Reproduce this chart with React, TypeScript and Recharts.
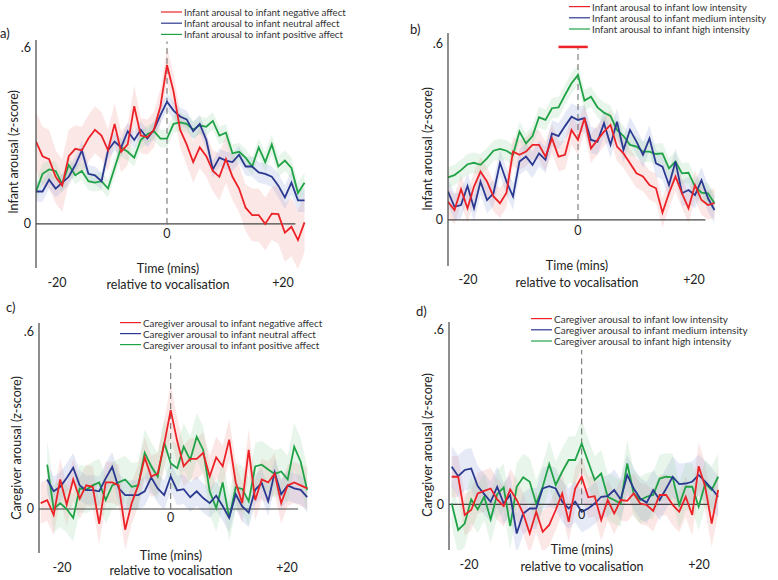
import React from "react";
import {
  ComposedChart,
  Line,
  Area,
  XAxis,
  YAxis,
  ReferenceLine,
} from "recharts";

// time relative to vocalisation (mins)
const minutes = [
  -20, -19, -18, -17, -16, -15, -14, -13, -12, -11, -10, -9, -8, -7, -6, -5, -4,
  -3, -2, -1, 0, 1, 2, 3, 4, 5, 6, 7, 8, 9, 10, 11, 12, 13, 14, 15, 16, 17, 18,
  19, 20, 21,
];

// a) infant arousal by infant affect
const aNames = [
  "Infant arousal to infant negative affect",
  "Infant arousal to infant neutral affect",
  "Infant arousal to infant positive affect",
];
const aRed = [
  0.28, 0.23, 0.22, 0.16, 0.13, 0.23, 0.255, 0.25, 0.29, 0.32, 0.3, 0.25, 0.34,
  0.245, 0.27, 0.4, 0.3, 0.295, 0.32, 0.4, 0.54, 0.45, 0.32, 0.27, 0.21, 0.26,
  0.23, 0.18, 0.16, 0.22, 0.16, 0.12, 0.055, 0.03, 0.03, 0.0, 0.035, 0.033,
  -0.03, -0.01, -0.055, 0.005,
];
const aBlue = [
  0.11, 0.11, 0.15, 0.12, 0.14, 0.16, 0.2, 0.25, 0.17, 0.165, 0.145, 0.25, 0.28,
  0.26, 0.315, 0.285, 0.32, 0.29, 0.32, 0.37, 0.415, 0.385, 0.365, 0.355, 0.315,
  0.34, 0.285, 0.185, 0.225, 0.215, 0.21, 0.235, 0.195, 0.195, 0.175, 0.17,
  0.16, 0.13, 0.09, 0.14, 0.08, 0.08,
];
const aGreen = [
  0.11, 0.17, 0.185, 0.18, 0.135, 0.2, 0.165, 0.18, 0.145, 0.14, 0.145, 0.12,
  0.19, 0.26, 0.245, 0.225, 0.285, 0.305, 0.315, 0.29, 0.29, 0.34, 0.345, 0.34,
  0.32, 0.335, 0.33, 0.35, 0.3, 0.31, 0.24, 0.245, 0.225, 0.195, 0.26, 0.21,
  0.27, 0.195, 0.215, 0.19, 0.105, 0.14,
];
const aRedSe = [
  0.1, 0.1, 0.1, 0.09, 0.09, 0.09, 0.08, 0.08, 0.08, 0.08, 0.08, 0.07, 0.07,
  0.07, 0.07, 0.07, 0.06, 0.06, 0.06, 0.06, 0.06, 0.06, 0.06, 0.07, 0.07, 0.07,
  0.07, 0.07, 0.08, 0.08, 0.08, 0.08, 0.08, 0.09, 0.09, 0.09, 0.09, 0.1, 0.1,
  0.1, 0.1, 0.1,
];
const aBlueSe = [
  0.035, 0.035, 0.03, 0.03, 0.03, 0.03, 0.03, 0.03, 0.03, 0.03, 0.03, 0.03,
  0.03, 0.03, 0.03, 0.03, 0.03, 0.03, 0.03, 0.03, 0.03, 0.03, 0.03, 0.03, 0.03,
  0.03, 0.03, 0.03, 0.03, 0.03, 0.03, 0.03, 0.03, 0.035, 0.035, 0.035, 0.035,
  0.04, 0.04, 0.04, 0.04, 0.04,
];
const aGreenSe = [
  0.035, 0.035, 0.03, 0.03, 0.03, 0.03, 0.03, 0.03, 0.03, 0.03, 0.03, 0.03,
  0.03, 0.03, 0.03, 0.03, 0.03, 0.03, 0.03, 0.03, 0.03, 0.03, 0.03, 0.03, 0.03,
  0.03, 0.03, 0.03, 0.03, 0.03, 0.03, 0.03, 0.03, 0.03, 0.03, 0.035, 0.035,
  0.035, 0.035, 0.035, 0.035, 0.035,
];

// b) infant arousal by vocal intensity
const bNames = [
  "Infant arousal to infant low intensity",
  "Infant arousal to infant medium intensity",
  "Infant arousal to infant high intensity",
];
const bRed = [
  0.062, 0.034, 0.105, 0.04, 0.114, 0.165, 0.131, 0.08, 0.057, 0.093, 0.233,
  0.222, 0.233, 0.256, 0.256, 0.216, 0.278, 0.216, 0.222, 0.307, 0.273, 0.347,
  0.244, 0.273, 0.301, 0.324, 0.25, 0.227, 0.193, 0.159, 0.148, 0.119, 0.108,
  0.025, 0.091, 0.148, 0.091, 0.04, 0.119, 0.068, 0.051, 0.057,
];
const bBlue = [
  0.097, 0.045, 0.051, 0.116, 0.04, 0.131, 0.068, 0.091, 0.195, 0.131, 0.08,
  0.199, 0.216, 0.188, 0.227, 0.205, 0.295, 0.286, 0.32, 0.352, 0.341, 0.347,
  0.273, 0.267, 0.33, 0.256, 0.335, 0.239, 0.307, 0.267, 0.222, 0.278, 0.193,
  0.182, 0.119, 0.199, 0.091, 0.102, 0.085, 0.136, 0.074, 0.034,
];
const bGreen = [
  0.145, 0.153, 0.17, 0.19, 0.195, 0.188, 0.21, 0.236, 0.242, 0.236, 0.222,
  0.301, 0.261, 0.286, 0.35, 0.341, 0.381, 0.384, 0.426, 0.466, 0.494, 0.407,
  0.42, 0.384, 0.366, 0.355, 0.307, 0.286, 0.256, 0.25, 0.233, 0.233, 0.225,
  0.227, 0.176, 0.199, 0.159, 0.161, 0.114, 0.093, 0.091, 0.057,
];
const bRedSe = [
  0.05, 0.05, 0.05, 0.05, 0.05, 0.05, 0.05, 0.05, 0.05, 0.05, 0.05, 0.05, 0.05,
  0.05, 0.05, 0.05, 0.05, 0.05, 0.05, 0.05, 0.05, 0.05, 0.05, 0.05, 0.05, 0.05,
  0.05, 0.05, 0.05, 0.05, 0.05, 0.05, 0.05, 0.05, 0.05, 0.05, 0.05, 0.05, 0.05,
  0.05, 0.05, 0.05,
];
const bBlueSe = [
  0.045, 0.045, 0.045, 0.045, 0.045, 0.045, 0.045, 0.045, 0.045, 0.045, 0.045,
  0.045, 0.045, 0.045, 0.045, 0.045, 0.045, 0.045, 0.045, 0.045, 0.045, 0.045,
  0.045, 0.045, 0.045, 0.045, 0.045, 0.045, 0.045, 0.045, 0.045, 0.045, 0.045,
  0.045, 0.045, 0.045, 0.045, 0.045, 0.045, 0.045, 0.045, 0.045,
];
const bGreenSe = [
  0.035, 0.035, 0.035, 0.035, 0.035, 0.035, 0.035, 0.035, 0.035, 0.035, 0.035,
  0.035, 0.035, 0.035, 0.035, 0.035, 0.035, 0.035, 0.035, 0.035, 0.035, 0.035,
  0.035, 0.035, 0.035, 0.035, 0.035, 0.035, 0.035, 0.035, 0.035, 0.035, 0.035,
  0.035, 0.035, 0.035, 0.035, 0.035, 0.035, 0.035, 0.035, 0.035,
];
// window where low intensity differs (red bar)
const bSignificance = [-3, 1.5];

// c) caregiver arousal by infant affect
const cNames = [
  "Caregiver arousal to infant negative affect",
  "Caregiver arousal to infant neutral affect",
  "Caregiver arousal to infant positive affect",
];
const cRed = [
  0.02, 0.03, -0.02, 0.1, 0.015, 0.1, 0.035, 0.08, 0.075, -0.05, 0.09, 0.09,
  0.08, -0.07, 0.02, 0.08, 0.175, 0.11, 0.12, 0.22, 0.335, 0.23, 0.145, 0.17,
  0.17, 0.19, 0.11, 0.175, 0.145, 0.235, 0.09, 0.02, 0.2, 0.03, 0.1, 0.09, 0.12,
  0.02, 0.08, 0.09, 0.08, 0.07,
];
const cBlue = [
  null, 0.1, 0.06, 0.075, 0.105, 0.14, 0.08, 0.064, 0.064, 0.06, 0.104, 0.143,
  0.07, 0.047, 0.047, 0.047, 0.06, 0.107, 0.07, 0.047, 0.11, 0.063, 0.067, 0.04,
  0.06, 0.037, 0.02, 0.045, 0.01, -0.03, 0.05, 0.009, -0.012, 0.065, 0.088,
  0.026, 0.124, 0.05, 0.08, 0.07, 0.065, 0.04,
];
const cGreen = [
  null, 0.15, 0.0, 0.02, 0.0, -0.03, 0.07, 0.065, 0.08, 0.09, 0.03, 0.08, 0.09,
  0.1, 0.075, 0.08, 0.19, 0.145, 0.11, 0.225, 0.155, 0.138, 0.211, 0.166, 0.245,
  0.2, 0.06, 0.003, 0.09, -0.03, 0.073, 0.068, 0.026, 0.144, 0.15, 0.134, 0.119,
  0.127, 0.1, 0.211, 0.16, 0.064,
];
const cRedSe = [
  0.07, 0.07, 0.07, 0.07, 0.07, 0.07, 0.07, 0.07, 0.07, 0.07, 0.07, 0.07, 0.07,
  0.07, 0.07, 0.07, 0.07, 0.07, 0.07, 0.08, 0.09, 0.08, 0.07, 0.07, 0.07, 0.07,
  0.07, 0.07, 0.07, 0.07, 0.07, 0.07, 0.07, 0.07, 0.07, 0.07, 0.07, 0.07, 0.07,
  0.07, 0.07, 0.07,
];
const cBlueSe = [
  0.05, 0.05, 0.05, 0.05, 0.05, 0.05, 0.05, 0.05, 0.05, 0.05, 0.05, 0.05, 0.05,
  0.05, 0.05, 0.05, 0.05, 0.05, 0.05, 0.05, 0.05, 0.05, 0.05, 0.05, 0.05, 0.05,
  0.05, 0.05, 0.05, 0.05, 0.05, 0.05, 0.05, 0.05, 0.05, 0.05, 0.05, 0.05, 0.05,
  0.05, 0.05, 0.05,
];
const cGreenSe = [
  0.08, 0.08, 0.08, 0.08, 0.08, 0.08, 0.08, 0.08, 0.08, 0.08, 0.08, 0.08, 0.08,
  0.08, 0.08, 0.08, 0.08, 0.08, 0.08, 0.08, 0.08, 0.08, 0.08, 0.08, 0.08, 0.08,
  0.08, 0.08, 0.08, 0.08, 0.08, 0.08, 0.08, 0.08, 0.08, 0.08, 0.08, 0.08, 0.08,
  0.08, 0.08, 0.08,
];

// d) caregiver arousal by vocal intensity
const dNames = [
  "Caregiver arousal to infant low intensity",
  "Caregiver arousal to infant medium intensity",
  "Caregiver arousal to infant high intensity",
];
const dRed = [
  0.094, 0.094, -0.036, -0.019, 0.037, 0.046, 0.054, 0.017, -0.006, 0.051, 0.015,
  -0.031, -0.099, -0.025, -0.093, -0.07, -0.019, 0.037, -0.059, 0.054, 0.094,
  0.024, 0.028, -0.053, 0.015, -0.031, 0.015, 0.012, 0.037, 0.003, -0.002,
  -0.022, 0.032, 0.032, -0.002, -0.025, 0.026, -0.036, 0.13, 0.06, -0.065, 0.049,
];
const dBlue = [
  0.128, 0.096, 0.117, 0.122, 0.062, 0.035, 0.009, 0.06, 0.003, 0.032, -0.099,
  -0.031, -0.014, -0.014, 0.054, 0.062, 0.054, 0.009, -0.014, 0.009, -0.025,
  -0.014, 0.003, 0.026, 0.028, 0.049, 0.017, 0.1, 0.054, 0.02, 0.006, 0.049,
  0.015, 0.054, 0.094, 0.069, 0.071, 0.077, 0.1, 0.077, 0.054, 0.026,
];
const dGreen = [
  0.003, -0.087, -0.065, 0.017, -0.017, 0.026, -0.051, 0.035, 0.058, -0.074,
  0.06, 0.092, 0.077, 0.003, 0.06, 0.137, 0.066, 0.111, 0.151, 0.151, 0.207,
  0.145, 0.083, 0.105, 0.026, 0.015, 0.003, 0.139, 0.037, 0.015, 0.026, 0.032,
  0.088, 0.094, 0.092, -0.002, 0.06, 0.06, -0.008, 0.071, 0.049, 0.094,
];
const dRedSe = [
  0.07, 0.07, 0.07, 0.07, 0.07, 0.07, 0.07, 0.07, 0.07, 0.07, 0.07, 0.07, 0.07,
  0.07, 0.07, 0.07, 0.07, 0.07, 0.07, 0.07, 0.07, 0.07, 0.07, 0.07, 0.07, 0.07,
  0.07, 0.07, 0.07, 0.07, 0.07, 0.07, 0.07, 0.07, 0.07, 0.07, 0.07, 0.07, 0.08,
  0.08, 0.08, 0.08,
];
const dBlueSe = [
  0.07, 0.07, 0.07, 0.07, 0.07, 0.07, 0.07, 0.07, 0.07, 0.07, 0.07, 0.07, 0.07,
  0.07, 0.07, 0.07, 0.07, 0.07, 0.07, 0.07, 0.07, 0.07, 0.07, 0.07, 0.07, 0.07,
  0.07, 0.07, 0.07, 0.07, 0.07, 0.07, 0.07, 0.07, 0.07, 0.07, 0.07, 0.07, 0.07,
  0.07, 0.07, 0.07,
];
const dGreenSe = [
  0.08, 0.08, 0.08, 0.08, 0.08, 0.08, 0.08, 0.08, 0.08, 0.08, 0.08, 0.08, 0.08,
  0.08, 0.08, 0.08, 0.08, 0.08, 0.08, 0.08, 0.08, 0.08, 0.08, 0.08, 0.08, 0.08,
  0.08, 0.08, 0.08, 0.08, 0.08, 0.08, 0.08, 0.08, 0.08, 0.08, 0.08, 0.08, 0.08,
  0.08, 0.08, 0.08,
];

const RED = "#ec2227";
const BLUE = "#2b3990";
const GREEN = "#1fa346";
const FONT = "Lato, 'Noto Sans', sans-serif";
const INK = "#222";

type Val = number | null;

const band = (v: Val, se: number) => (v == null ? null : [v - se, v + se]);

const buildRows = (
  red: Val[],
  blue: Val[],
  green: Val[],
  redSe: number[],
  blueSe: number[],
  greenSe: number[]
) =>
  minutes.map((t, i) => ({
    t,
    red: red[i],
    blue: blue[i],
    green: green[i],
    redBand: band(red[i], redSe[i]),
    blueBand: band(blue[i], blueSe[i]),
    greenBand: band(green[i], greenSe[i]),
  }));

interface PanelCfg {
  tag: string;
  tagX: number;
  tagY: number;
  yLabel: string;
  yLabelX: number;
  yLabelY: number;
  axisX: number;
  top: number;
  bottom: number;
  zeroX: number;
  step: number;
  yMin: number;
  yMax: number;
  dashTop: number;
  zeroOffset: number;
  names: string[];
  legendX: number;
  legendY: number[];
  legendSize: number;
  timeX: number;
  timeY: number;
  minusX: number;
  plusX: number;
  endsY: number;
  relY: number;
  rows: ReturnType<typeof buildRows>;
  sig?: number[];
}

const panels: PanelCfg[] = [
  {
    tag: "a)", tagX: 0, tagY: 33,
    yLabel: "Infant arousal (z-score)", yLabelX: 13, yLabelY: 152,
    axisX: 36, top: 40, bottom: 268, zeroX: 167, step: 6.55,
    yMin: -0.15, yMax: 0.625, dashTop: 0.62, zeroOffset: 5,
    names: aNames, legendX: 161, legendY: [12, 23.2, 34.4], legendSize: 9.7,
    timeX: 168, timeY: 268, minusX: 57, plusX: 283, endsY: 282, relY: 284,
    rows: buildRows(aRed, aBlue, aGreen, aRedSe, aBlueSe, aGreenSe),
  },
  {
    tag: "b)", tagX: 410, tagY: 29,
    yLabel: "Infant arousal (z-score)", yLabelX: 427, yLabelY: 149,
    axisX: 448, top: 33, bottom: 266, zeroX: 578, step: 6.5,
    yMin: -0.157, yMax: 0.6375, dashTop: 0.59, zeroOffset: 6,
    names: bNames, legendX: 569, legendY: [6.6, 17.8, 29], legendSize: 9.8,
    timeX: 577, timeY: 265, minusX: 468, plusX: 694, endsY: 279, relY: 282,
    rows: buildRows(bRed, bBlue, bGreen, bRedSe, bBlueSe, bGreenSe),
    sig: bSignificance,
  },
  {
    tag: "c)", tagX: 6, tagY: 307,
    yLabel: "Caregiver arousal (z-score)", yLabelX: 16, yLabelY: 448,
    axisX: 39, top: 323, bottom: 553, zeroX: 170.7, step: 6.5,
    yMin: -0.149, yMax: 0.63, dashTop: 0.52, zeroOffset: 4,
    names: cNames, legendX: 120, legendY: [322.6, 333.6, 344.6], legendSize: 9.8,
    timeX: 171, timeY: 555, minusX: 62, plusX: 287, endsY: 567, relY: 570,
    rows: buildRows(cRed, cBlue, cGreen, cRedSe, cBlueSe, cGreenSe),
  },
  {
    tag: "d)", tagX: 416, tagY: 311,
    yLabel: "Caregiver arousal (z-score)", yLabelX: 427, yLabelY: 445,
    axisX: 449, top: 322, bottom: 550, zeroX: 581.7, step: 6.5,
    yMin: -0.155, yMax: 0.62, dashTop: 0.525, zeroOffset: 6,
    names: dNames, legendX: 531, legendY: [318.6, 329.8, 341], legendSize: 10,
    timeX: 582, timeY: 549, minusX: 469, plusX: 699, endsY: 564, relY: 566,
    rows: buildRows(dRed, dBlue, dGreen, dRedSe, dBlueSe, dGreenSe),
  },
];

const Y_AXIS_W = 30;
const X_MAX = 21.3;

const PanelChart: React.FC<{ p: PanelCfg }> = ({ p }) => {
  const xMin = (p.axisX - p.zeroX) / p.step;
  const plotW = (X_MAX - xMin) * p.step;
  const h = p.bottom - p.top;
  return (
    <div
      style={{
        position: "absolute",
        left: p.axisX - Y_AXIS_W,
        top: p.top,
      }}
    >
      <ComposedChart
        width={Y_AXIS_W + plotW}
        height={h}
        data={p.rows}
        margin={{ top: 0, right: 0, bottom: 0, left: 0 }}
      >
        <XAxis
          type="number"
          dataKey="t"
          domain={[xMin, X_MAX]}
          allowDataOverflow
          hide
        />
        <YAxis
          type="number"
          width={Y_AXIS_W}
          domain={[p.yMin, p.yMax]}
          allowDataOverflow
          ticks={[0, 0.6]}
          tickFormatter={(v: number) => (v === 0 ? "0" : ".6")}
          tickLine={false}
          tickSize={2}
          tickMargin={3}
          axisLine={{ stroke: "#444", strokeWidth: 1.2 }}
          tick={{ fontSize: 12.5, fill: INK, fontFamily: FONT }}
        />
        <Area dataKey="redBand" stroke="none" fill="#f19a9a" fillOpacity={0.24} isAnimationActive={false} connectNulls={false} />
        <Area dataKey="blueBand" stroke="none" fill="#93a6d8" fillOpacity={0.24} isAnimationActive={false} connectNulls={false} />
        <Area dataKey="greenBand" stroke="none" fill="#9dd6a6" fillOpacity={0.24} isAnimationActive={false} connectNulls={false} />
        <ReferenceLine
          segment={[
            { x: xMin, y: 0 },
            { x: 19.6, y: 0 },
          ]}
          stroke="#444"
          strokeWidth={1.2}
        />
        <ReferenceLine
          segment={[
            { x: 0, y: 0 },
            { x: 0, y: p.dashTop },
          ]}
          stroke="#666"
          strokeWidth={1}
          strokeDasharray="6 4"
          label={{
            value: "0",
            position: "bottom",
            offset: p.zeroOffset,
            fill: INK,
            fontSize: 12.5,
            fontFamily: FONT,
          }}
        />
        {p.sig && (
          <ReferenceLine
            segment={[
              { x: p.sig[0], y: 0.59 },
              { x: p.sig[1], y: 0.59 },
            ]}
            stroke={RED}
            strokeWidth={2.5}
          />
        )}
        <Line type="linear" dataKey="green" stroke={GREEN} strokeWidth={1.8} dot={false} isAnimationActive={false} />
        <Line type="linear" dataKey="blue" stroke={BLUE} strokeWidth={1.8} dot={false} isAnimationActive={false} />
        <Line type="linear" dataKey="red" stroke={RED} strokeWidth={1.8} dot={false} isAnimationActive={false} />
      </ComposedChart>
    </div>
  );
};

const legendColors = [RED, BLUE, GREEN];

const App: React.FC = () => {
  return (
    <div
      style={{
        position: "relative",
        width: 778,
        height: 580,
        background: "#fff",
        fontFamily: FONT,
        overflow: "hidden",
      }}
    >
      <style>{"body{margin:0}"}</style>
      {panels.map((p) => (
        <PanelChart key={p.tag} p={p} />
      ))}
      <svg
        width={778}
        height={580}
        style={{ position: "absolute", left: 0, top: 0, pointerEvents: "none" }}
        fontFamily={FONT}
        fill={INK}
      >
        {panels.map((p) => (
          <g key={p.tag}>
            <text x={p.tagX} y={p.tagY} fontSize={13} dominantBaseline="central">
              {p.tag}
            </text>
            <text
              x={p.yLabelX}
              y={p.yLabelY}
              fontSize={12.5}
              textAnchor="middle"
              dominantBaseline="central"
              transform={`rotate(-90 ${p.yLabelX} ${p.yLabelY})`}
            >
              {p.yLabel}
            </text>
            {p.names.map((n, i) => (
              <g key={n}>
                <line
                  x1={p.legendX}
                  x2={p.legendX + 21}
                  y1={p.legendY[i]}
                  y2={p.legendY[i]}
                  stroke={legendColors[i]}
                  strokeWidth={1.2}
                />
                <text
                  x={p.legendX + 23}
                  y={p.legendY[i]}
                  fontSize={p.legendSize}
                  fill="#333"
                  dominantBaseline="central"
                >
                  {n}
                </text>
              </g>
            ))}
            <text x={p.timeX} y={p.timeY} fontSize={12.5} textAnchor="middle" dominantBaseline="central">
              Time (mins)
            </text>
            <text x={p.timeX} y={p.relY} fontSize={12.5} textAnchor="middle" dominantBaseline="central">
              relative to vocalisation
            </text>
            <text x={p.minusX} y={p.endsY} fontSize={12.5} textAnchor="middle" dominantBaseline="central">
              -20
            </text>
            <text x={p.plusX} y={p.endsY} fontSize={12.5} textAnchor="middle" dominantBaseline="central">
              +20
            </text>
          </g>
        ))}
      </svg>
    </div>
  );
};

export default App;
